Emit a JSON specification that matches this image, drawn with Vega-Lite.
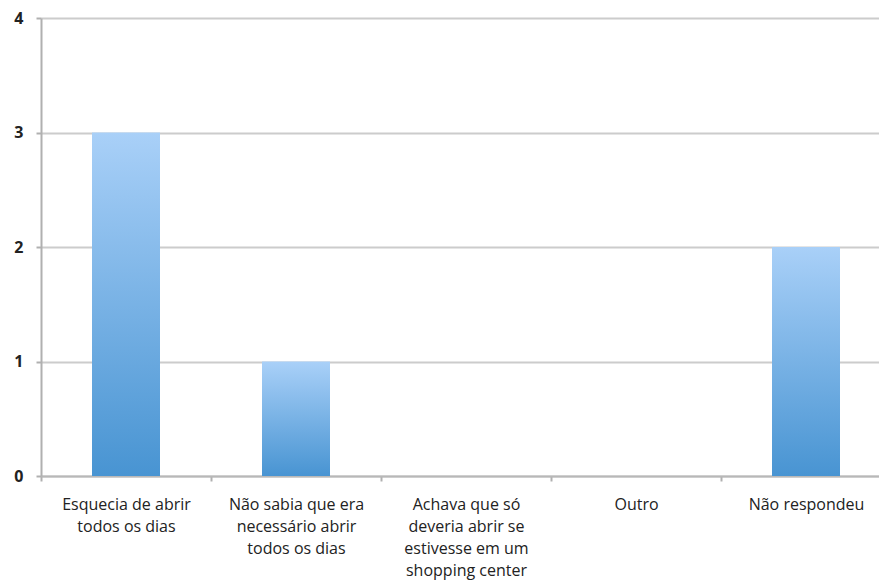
{
  "$schema": "https://vega.github.io/schema/vega-lite/v6.json",
  "width": 850,
  "height": 458,
  "autosize": {"type": "none"},
  "padding": {"left": 41, "top": 18, "right": 0, "bottom": 106},
  "background": "white",
  "data": {
    "values": [
      {"categoria": "Esquecia de abrir\ntodos os dias", "valor": 3},
      {"categoria": "Não sabia que era\nnecessário abrir\ntodos os dias", "valor": 1},
      {"categoria": "Achava que só\ndeveria abrir se\nestivesse em um\nshopping center", "valor": 0},
      {"categoria": "Outro", "valor": 0},
      {"categoria": "Não respondeu", "valor": 2}
    ]
  },
  "config": {
    "view": {"stroke": null},
    "font": "Open Sans"
  },
  "mark": {
    "type": "bar",
    "width": {"band": 0.4},
    "fill": {
      "gradient": "linear",
      "x1": 0, "y1": 0, "x2": 0, "y2": 1,
      "stops": [
        {"offset": 0, "color": "#a9d0f8"},
        {"offset": 1, "color": "#4894d2"}
      ]
    }
  },
  "encoding": {
    "x": {
      "field": "categoria",
      "type": "nominal",
      "sort": null,
      "scale": {"paddingInner": 0, "paddingOuter": 0},
      "axis": {
        "title": null,
        "labelAngle": 0,
        "labelExpr": "datum.value ? split(datum.value, '\\n') : ''",
        "labelFont": "Open Sans",
        "labelFontSize": 16,
        "labelLineHeight": 22,
        "labelColor": "#222222",
        "labelPadding": 15,
        "labelBaseline": "top",
        "tickBand": "extent",
        "tickSize": 5,
        "tickColor": "#b0b0b0",
        "tickWidth": 2,
        "domainColor": "#b8b8b8",
        "domainWidth": 2,
        "grid": false
      }
    },
    "y": {
      "field": "valor",
      "type": "quantitative",
      "scale": {"domain": [0, 4], "nice": false},
      "axis": {
        "title": null,
        "values": [0, 1, 2, 3, 4],
        "format": "d",
        "labelFont": "Open Sans",
        "labelFontSize": 16,
        "labelFontWeight": "bold",
        "labelColor": "#222222",
        "labelPadding": 13,
        "tickSize": 5,
        "tickColor": "#b0b0b0",
        "tickWidth": 2,
        "domainColor": "#b0b0b0",
        "domainWidth": 2,
        "grid": true,
        "gridColor": "#cccccc",
        "gridWidth": 2
      }
    }
  }
}
